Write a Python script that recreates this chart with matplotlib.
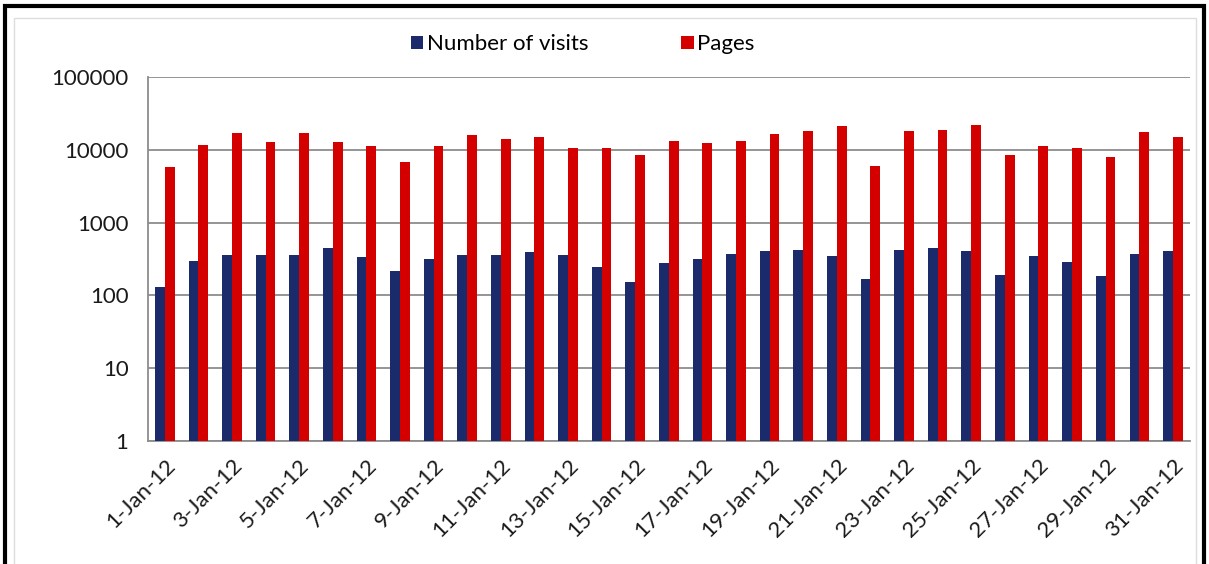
import matplotlib.pyplot as plt
import numpy as np
from matplotlib.patches import Rectangle

days = [f"{d}-Jan-12" for d in range(1, 32)]
visits = [129, 296, 355, 355, 355, 447, 340, 214, 313, 355,
          355, 390, 355, 248, 153, 281, 313, 370, 407, 425,
          345, 170, 420, 443, 407, 190, 351, 284, 183, 374, 407]
pages = [5800, 11700, 16900, 13000, 16900, 13000, 11200, 6900, 11200, 16200,
         14000, 15200, 10700, 10700, 8550, 13400, 12300, 13400, 16600, 18000,
         20900, 6020, 18000, 19000, 21800, 8550, 11100, 10700, 7900, 17300, 15100]
yticks = [1, 10, 100, 1000, 10000, 100000]

plt.rcParams['font.family'] = ['Lato', 'DejaVu Sans']

fig = plt.figure(figsize=(12.09, 5.64), dpi=100)
ax = fig.add_axes([0.1224, 0.218, 0.8616, 0.6455])

x = np.arange(len(days))
w = 0.29
ax.bar(x - w / 2, visits, w, color="#1b2a6b", label="Number of visits", zorder=3)
ax.bar(x + w / 2, pages, w, color="#d40000", label="Pages", zorder=3)

ax.set_yscale("log")
ax.set_ylim(1, 100000)
ax.set_yticks(yticks)
ax.set_yticklabels([str(v) for v in yticks])
ax.minorticks_off()
ax.yaxis.grid(True, color="#8c8c8c", linewidth=1.3, zorder=0)
ax.set_xlim(-0.5, len(days) - 0.5)
ax.set_xticks(x[::2])
ax.set_xticklabels(days[::2], rotation=45, ha="right", rotation_mode="anchor")
ax.tick_params(axis="both", length=0, labelsize=16, colors="#1a1a1a")
ax.tick_params(axis="y", pad=14)
ax.tick_params(axis="x", pad=10)
for s in ["top", "right"]:
    ax.spines[s].set_visible(False)
ax.spines["left"].set_color("#8c8c8c")
ax.spines["bottom"].set_color("#8c8c8c")
ax.spines["left"].set_linewidth(1.3)
ax.spines["bottom"].set_linewidth(1.3)

fig.legend(loc="upper center", bbox_to_anchor=(0.482, 0.975), ncol=2, frameon=False,
           fontsize=16, handlelength=0.55, handleheight=0.55, handletextpad=0.15,
           columnspacing=4.2)

# outer chart border
fig.patches.append(Rectangle((5 / 1209, -0.05), 1199 / 1209, 1 - 6 / 564 + 0.05,
                             transform=fig.transFigure, fill=False,
                             edgecolor="black", linewidth=3))
fig.patches.append(Rectangle((14 / 1209, -0.05), 1182 / 1209, 1 - 18 / 564 + 0.05,
                             transform=fig.transFigure, fill=False,
                             edgecolor="#dddddd", linewidth=1))

fig.savefig("out.png", dpi=100)
